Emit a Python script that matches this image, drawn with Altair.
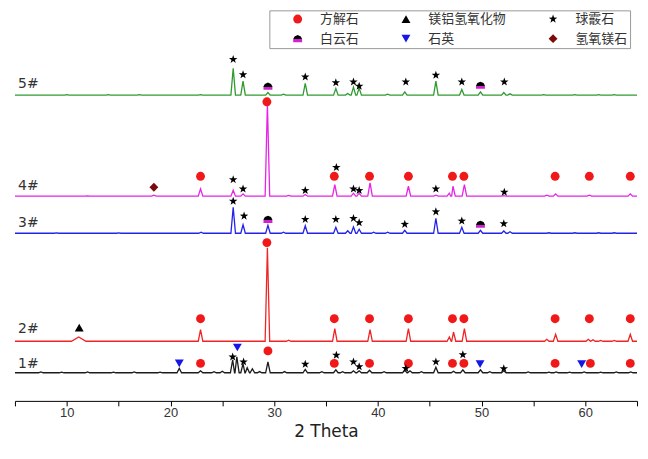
import altair as alt
import pandas as pd

# ---------------- data ----------------
trace_names = ["1#", "2#", "3#", "4#", "5#"]
trace_colors = ["#1c1c1c", "#f02424", "#2424e8", "#e623e6", "#2f9a2f"]
trace_offsets = [28.3, 60.0, 168.7, 206.0, 307.7]

# peak positions (2θ) and heights above each trace's baseline
t1_pos = [7.5, 9.5, 12.0, 14.5, 16.5, 19.0, 20.85, 22.9, 24.2, 25.0, 26.0, 26.4, 27.0, 27.4, 27.9, 28.6,
          29.4, 31.0, 33.0, 34.6, 35.95, 36.6, 37.65, 38.2, 39.2, 40.6, 42.6, 43.1, 44.2, 45.6, 47.3,
          48.2, 49.9, 50.8, 52.15, 54.5, 56.5, 57.2, 58.5, 59.9, 61.5, 63.0, 64.4]
t1_h = [0.8, 0.6, 0.8, 0.6, 0.8, 0.7, 4.3, 2.0, 1.0, 1.5, 13.0, 16.0, 9.0, 5.0, 4.0, 1.2,
        11.0, 1.2, 3.3, 1.0, 3.0, 1.0, 2.0, 2.0, 2.5, 1.0, 2.5, 2.0, 1.0, 5.6, 1.5,
        3.0, 3.0, 1.0, 2.0, 0.8, 0.6, 0.8, 0.6, 0.8, 0.6, 0.8, 0.8]

t2_pos = [11.15, 22.9, 29.35, 31.4, 35.85, 39.25, 42.95, 46.9, 47.3, 48.35, 56.3, 57.15, 60.3, 60.75,
          61.5, 62.8, 64.35]
t2_h = [4.3, 11.7, 94.0, 1.0, 12.7, 11.7, 12.7, 4.3, 9.3, 12.7, 2.0, 7.0, 2.0, 1.5, 0.8, 0.8, 7.0]

t3_pos = [9.0, 15.0, 22.95, 26.05, 27.0, 29.4, 30.9, 33.0, 35.95, 37.1, 37.65, 38.2, 39.6, 40.95,
          42.6, 45.6, 48.1, 49.9, 52.15, 52.75, 56.5, 59.0, 61.3, 62.8]
t3_h = [0.4, 0.4, 1.0, 26.0, 8.5, 8.0, 1.0, 7.5, 6.0, 2.5, 6.3, 4.0, 1.0, 1.0,
        3.0, 15.0, 6.0, 3.0, 2.3, 1.5, 0.5, 0.5, 0.5, 0.5]

t4_pos = [12.0, 18.4, 22.9, 26.05, 27.0, 29.35, 31.4, 33.0, 35.85, 37.65, 38.2, 39.25, 42.95, 45.6,
          46.9, 47.25, 48.35, 52.15, 56.3, 57.15, 60.4, 64.35]
t4_h = [0.4, 1.0, 7.3, 6.0, 2.3, 93.0, 0.8, 1.7, 11.7, 3.0, 3.0, 13.3, 10.0, 1.0,
        3.0, 10.0, 11.7, 0.5, 1.0, 2.3, 1.0, 2.3]

t5_pos = [10.0, 14.0, 17.0, 22.9, 26.05, 27.0, 29.4, 30.9, 33.0, 35.95, 37.1, 37.65, 38.2, 40.95,
          42.6, 45.6, 48.1, 49.9, 52.15, 52.75, 56.0, 59.0, 61.3, 62.8]
t5_h = [0.4, 0.5, 0.4, 0.5, 27.0, 14.0, 2.6, 1.0, 11.7, 6.6, 1.6, 8.0, 7.0, 1.0,
        3.3, 14.0, 5.6, 3.3, 2.6, 1.3, 0.4, 0.4, 0.4, 0.4]

peak_pos = [t1_pos, t2_pos, t3_pos, t4_pos, t5_pos]
peak_h = [t1_h, t2_h, t3_h, t4_h, t5_h]
broad_peaks = {11.15: 0.7}   # the hydrotalcite hump on 2# is broad

# sample labels
label_theta = [5.3, 5.3, 5.3, 5.3, 5.3]
label_y = [37.0, 72.7, 179.3, 216.0, 319.0]

# phase markers (2θ, height on the same stacked scale)
phases = ["方解石", "镁铝氢氧化物", "球霰石", "白云石", "石英", "氢氧镁石"]
phase_colors = ["#f01818", "#000000", "#000000", "#d21fd2", "#1616e6", "#7d0a0a"]

calcite_x = [22.9, 29.3, 35.8, 39.2, 42.95, 47.2, 48.3, 57.1, 60.4, 64.35,
             22.9, 29.3, 35.8, 39.2, 42.95, 47.2, 48.3, 57.1, 60.4, 64.35,
             22.9, 29.4, 35.8, 39.2, 42.95, 47.2, 48.3, 57.1, 60.5, 64.35]
calcite_y = [226, 301, 226, 226, 226, 226, 226, 226, 226, 226,
             82.7, 159.3, 82.7, 82.7, 82.7, 82.7, 82.7, 82.7, 82.7, 82.7,
             37.7, 50.3, 37.7, 37.7, 37.7, 37.7, 37.7, 37.7, 37.7, 37.7]
vaterite_x = [26.05, 27.0, 33.0, 35.95, 37.65, 38.2, 42.7, 45.6, 48.1, 52.2,
              26.05, 27.0, 33.0, 36.0, 37.65, 38.2, 45.6, 52.2,
              26.05, 27.1, 33.0, 35.95, 37.65, 38.2, 42.6, 45.6, 48.1, 52.15,
              26.0, 27.05, 33.0, 36.0, 37.65, 38.2, 42.7, 45.6, 48.2, 52.15]
vaterite_y = [343.7, 328.3, 326, 320.3, 321, 316.7, 321, 327.7, 321, 321,
              222.7, 213.3, 211.7, 235, 213.3, 211.7, 213.3, 210,
              201, 186, 182.7, 182.7, 183.7, 179.3, 177.7, 190.3, 181, 178.3,
              44.3, 39.3, 37, 46, 39.3, 34.5, 32.7, 39.3, 46.5, 32.5]
dolomite_x = [29.4, 49.9, 29.4, 49.9]
dolomite_y = [316.7, 317.7, 182.7, 177.7]
quartz_x = [20.85, 26.45, 49.86, 59.66]
quartz_y = [37.7, 53.7, 37.0, 37.0]
hydrotalcite_x = [11.2]
hydrotalcite_y = [73.7]
brucite_x = [18.4]
brucite_y = [215.0]

# ---------------- tables ----------------
rows = []
for name, off, pos, hts in zip(trace_names, trace_offsets, peak_pos, peak_h):
    rows.append({"trace": name, "theta": 5.0, "y": off})
    for p, h in zip(pos, hts):
        hw = broad_peaks.get(p, 0.22)
        rows.append({"trace": name, "theta": p - hw, "y": off})
        rows.append({"trace": name, "theta": p, "y": off + h})
        rows.append({"trace": name, "theta": p + hw, "y": off})
    rows.append({"trace": name, "theta": 65.0, "y": off})
line_df = pd.DataFrame(rows)

mk = []
for ph, xs, ys in [("方解石", calcite_x, calcite_y), ("球霰石", vaterite_x, vaterite_y),
                   ("白云石", dolomite_x, dolomite_y), ("石英", quartz_x, quartz_y),
                   ("镁铝氢氧化物", hydrotalcite_x, hydrotalcite_y), ("氢氧镁石", brucite_x, brucite_y)]:
    for a, b in zip(xs, ys):
        mk.append({"phase": ph, "theta": a, "y": b})
mark_df = pd.DataFrame(mk)

label_df = pd.DataFrame({"trace": trace_names, "theta": label_theta, "y": label_y})

# ---------------- chart ----------------
STAR = ("M0,-1 L0.235,-0.324 L0.951,-0.309 L0.38,0.124 L0.588,0.809 L0,0.4 "
        "L-0.588,0.809 L-0.38,0.124 L-0.951,-0.309 L-0.235,-0.324 Z")
DOLO = "M-1,0.8 L-1,0.1 L-0.7,-0.5 L0,-0.8 L0.7,-0.5 L1,0.1 L1,0.8 Z"
phase_shapes = ["circle", "triangle-up", STAR, DOLO, "triangle-down", "diamond"]

# dolomite symbol: black top half, magenta bottom half (vertical gradient fill)
DOLO_FILL = alt.ExprRef(
    "{gradient: 'linear', x1: 0, y1: 0, x2: 0, y2: 1, stops: ["
    "{offset: 0, color: '#000000'}, {offset: 0.56, color: '#000000'}, "
    "{offset: 0.56, color: '" + phase_colors[3] + "'}, {offset: 1, color: '" + phase_colors[3] + "'}]}"
)
color_range = phase_colors[:3] + [DOLO_FILL] + phase_colors[4:]

x_scale = alt.Scale(domain=[5, 65], nice=False, zero=False)
y_scale = alt.Scale(domain=[0, 393], nice=False, zero=False)

x_axis = alt.Axis(
    values=list(range(5, 66, 5)),
    labelExpr="datum.value % 10 == 0 ? datum.label : ''",
    title="2 Theta", grid=False, domainColor="#000000", tickColor="#000000",
    tickSize=5, labelFont="Liberation Sans", labelFontSize=13, labelColor="#333333",
    labelPadding=1, titleFont="DejaVu Sans", titleFontSize=17, titleFontWeight="normal",
    titleColor="#222222", titlePadding=4,
)

lines = alt.Chart(line_df).mark_line(strokeWidth=1.3).encode(
    x=alt.X("theta:Q", scale=x_scale, axis=x_axis),
    y=alt.Y("y:Q", scale=y_scale, axis=None),
    stroke=alt.Stroke("trace:N", scale=alt.Scale(domain=trace_names, range=trace_colors), legend=None),
)

leg = alt.Legend(
    title=" ", titleOrient="left", titleFontSize=8, titlePadding=20,
    orient="none", legendX=256, legendY=0, columns=3, direction="horizontal",
    strokeColor="#999999", fillColor="#ffffff", padding=2,
    labelFont="Noto Sans CJK SC", labelFontSize=13, labelColor="#333333", symbolSize=80,
    labelOffset=16, columnPadding=40, rowPadding=6, symbolStrokeWidth=0,
)

markers = alt.Chart(mark_df).mark_point(filled=True, size=80, opacity=1).encode(
    x=alt.X("theta:Q", scale=x_scale),
    y=alt.Y("y:Q", scale=y_scale),
    color=alt.Color("phase:N", scale=alt.Scale(domain=phases, range=color_range), legend=leg),
    shape=alt.Shape("phase:N", scale=alt.Scale(domain=phases, range=phase_shapes), legend=leg),
)

labels = alt.Chart(label_df).mark_text(
    align="left", baseline="middle", font="DejaVu Sans", fontSize=14, color="#333333"
).encode(x=alt.X("theta:Q", scale=x_scale), y=alt.Y("y:Q", scale=y_scale), text="trace:N")

chart = alt.layer(lines, markers, labels).properties(
    width=626, height=393, padding={"left": 4, "right": 0, "top": 0, "bottom": 0}
).configure_view(stroke=None)

chart.save("out.html", embed_options={"renderer": "svg", "actions": False})
